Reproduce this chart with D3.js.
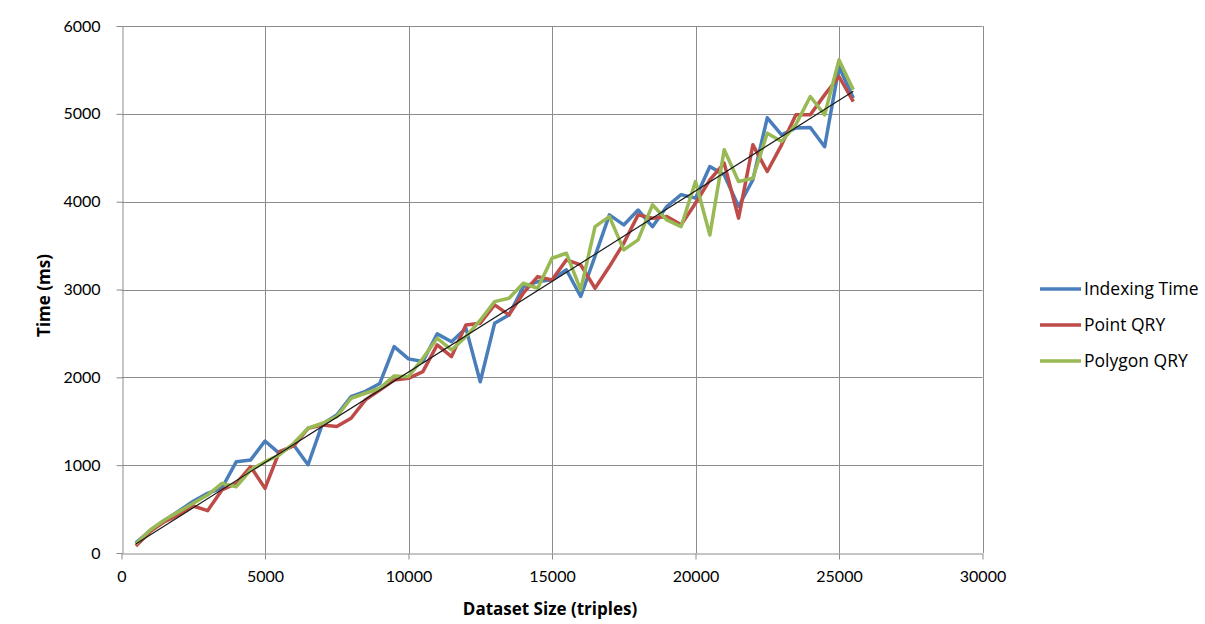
<!DOCTYPE html>
<html>
<head>
<meta charset="utf-8">
<script src="https://cdn.jsdelivr.net/npm/d3@7"></script>
<style>
  html, body { margin: 0; padding: 0; background: #fff; }
  svg text { fill: #000; }
</style>
</head>
<body>
<svg id="chart" width="1205" height="624"></svg>
<script>
// Dataset sizes (triples)
const sizes = d3.range(1, 52).map(i => i * 500);

// Timings in ms
const indexingTime = [117, 255, 370, 480, 590, 680, 740, 1040, 1060, 1275,
  1135, 1230, 1005, 1470, 1570, 1780, 1840, 1930, 2350, 2210,
  2180, 2495, 2405, 2560, 1950, 2615, 2710, 3030, 3090, 3110,
  3225, 2920, 3380, 3850, 3735, 3905, 3715, 3945, 4080, 4040,
  4400, 4305, 3945, 4250, 4955, 4760, 4840, 4845, 4625, 5535, 5180];

const pointQry = [80, 243, 357, 433, 535, 482, 718, 793, 983, 736,
  1154, 1219, 1420, 1458, 1439, 1534, 1743, 1856, 1970, 1989,
  2065, 2369, 2236, 2597, 2616, 2825, 2711, 2958, 3147, 3109,
  3337, 3280, 3014, 3261, 3527, 3850, 3812, 3830, 3736, 3982,
  4248, 4438, 3812, 4647, 4343, 4647, 4989, 4989, 5216, 5425, 5140];

const polygonQry = [102, 262, 376, 471, 566, 660, 793, 755, 945, 1040,
  1116, 1249, 1420, 1477, 1552, 1762, 1819, 1876, 2016, 2008,
  2217, 2445, 2312, 2463, 2650, 2862, 2900, 3071, 3014, 3356,
  3413, 2995, 3716, 3830, 3451, 3565, 3964, 3792, 3716, 4229,
  3621, 4590, 4229, 4267, 4780, 4685, 4880, 5197, 4989, 5614, 5273];

const seriesNames = ["Indexing Time", "Point QRY", "Polygon QRY"];
const seriesColors = ["#4A7EBB", "#BE4B48", "#98B954"];
const xTicks = [0, 5000, 10000, 15000, 20000, 25000, 30000];
const yTicks = [0, 1000, 2000, 3000, 4000, 5000, 6000];

const series = [indexingTime, pointQry, polygonQry].map((vals, k) => ({
  name: seriesNames[k],
  color: seriesColors[k],
  points: vals.map((v, i) => ({ x: sizes[i], y: v }))
}));

const svg = d3.select("#chart");
const plot = { left: 121.5, right: 982.5, top: 26, bottom: 553 };

const x = d3.scaleLinear().domain([0, 30000]).range([plot.left, plot.right]);
const y = d3.scaleLinear().domain([0, 6000]).range([plot.bottom, plot.top]);

// Gridlines
const grid = svg.append("g");
grid.selectAll("line.h").data(yTicks.filter(t => t > 0)).join("line")
  .attr("x1", plot.left).attr("x2", plot.right)
  .attr("y1", d => Math.round(y(d)) + 0.5).attr("y2", d => Math.round(y(d)) + 0.5)
  .attr("stroke", "#8c8c8c").attr("stroke-width", 1);
grid.selectAll("line.v").data(xTicks.filter(t => t > 0)).join("line")
  .attr("y1", plot.top).attr("y2", plot.bottom)
  .attr("x1", d => Math.round(x(d)) + 0.5).attr("x2", d => Math.round(x(d)) + 0.5)
  .attr("stroke", "#8c8c8c").attr("stroke-width", 1);

// Axes
const xAxis = svg.append("g")
  .attr("transform", `translate(0,${Math.round(plot.bottom) + 0.5})`)
  .call(d3.axisBottom(x).tickValues(xTicks).tickSizeInner(6).tickSizeOuter(0).tickPadding(11).tickFormat(d3.format("d")));
const yAxis = svg.append("g")
  .attr("transform", `translate(${Math.round(plot.left) + 0.5},0)`)
  .call(d3.axisLeft(y).tickValues(yTicks).tickSizeInner(6).tickSizeOuter(0).tickPadding(16).tickFormat(d3.format("d")));
[xAxis, yAxis].forEach(a => {
  a.selectAll(".domain").attr("stroke", "#8c8c8c");
  a.selectAll(".tick line").attr("stroke", "#8c8c8c");
  a.selectAll(".tick text")
    .style("font-size", "16px").style("font-family", "Lato, sans-serif").style("fill", "#000");
});

// Series lines
const line = d3.line().x(d => x(d.x)).y(d => y(d.y));
svg.append("g").selectAll("path").data(series).join("path")
  .attr("d", d => line(d.points))
  .attr("fill", "none")
  .attr("stroke", d => d.color)
  .attr("stroke-width", 3.5)
  .attr("stroke-linejoin", "round");

// Linear trendline through the origin (least squares over indexing time)
const n = sizes.length;
const slope = d3.sum(sizes, (s, i) => s * indexingTime[i]) / d3.sum(sizes, s => s * s);
const trend = [sizes[0], sizes[n - 1]].map(s => ({ x: s, y: slope * s }));
svg.append("path")
  .attr("d", line(trend))
  .attr("fill", "none")
  .attr("stroke", "#1a1a1a")
  .attr("stroke-width", 1.2);

// Axis titles
svg.append("text")
  .attr("x", (plot.left + plot.right) / 2 - 2).attr("y", 615)
  .attr("text-anchor", "middle")
  .style("font-size", "17px").style("font-weight", "bold")
  .style("font-family", "'Open Sans', sans-serif")
  .text("Dataset Size (triples)");
svg.append("text")
  .attr("transform", `translate(50,${(plot.top + plot.bottom) / 2 + 6}) rotate(-90)`)
  .attr("text-anchor", "middle")
  .style("font-size", "17px").style("font-weight", "bold")
  .style("font-family", "'Open Sans', sans-serif")
  .text("Time (ms)");

// Legend
const legend = svg.append("g").attr("transform", "translate(1040,289)");
const rows = legend.selectAll("g").data(series).join("g")
  .attr("transform", (d, i) => `translate(0,${i * 36})`);
rows.append("line")
  .attr("x1", 0).attr("x2", 41).attr("y1", 0).attr("y2", 0)
  .attr("stroke", d => d.color).attr("stroke-width", 3.5);
rows.append("text")
  .attr("x", 44).attr("y", 0).attr("dy", "0.35em")
  .style("font-size", "17.5px")
  .style("font-family", "'Open Sans', sans-serif")
  .text(d => d.name);
</script>
</body>
</html>
